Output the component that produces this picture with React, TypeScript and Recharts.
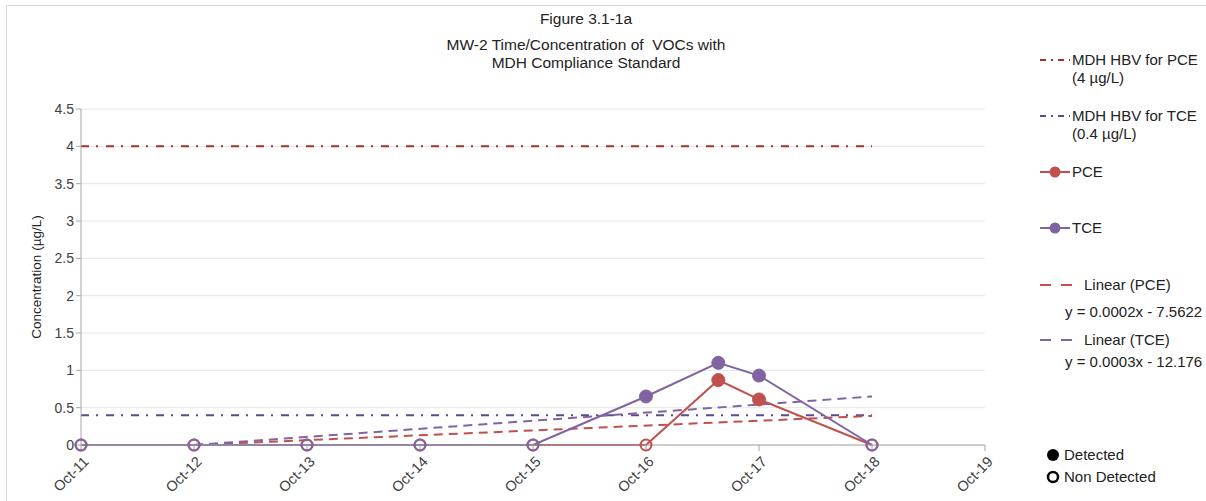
import React from "react";
import { CartesianGrid, Line, LineChart, XAxis, YAxis } from "recharts";

// x values are decimal years (Oct = year + 0.75)
const tickYears = [2011.75, 2012.75, 2013.75, 2014.75, 2015.75, 2016.75, 2017.75, 2018.75, 2019.75];
const tickLabels = ["Oct-11", "Oct-12", "Oct-13", "Oct-14", "Oct-15", "Oct-16", "Oct-17", "Oct-18", "Oct-19"];
const yTicks = [0, 0.5, 1, 1.5, 2, 2.5, 3, 3.5, 4, 4.5];

const sampleDates = [2011.75, 2012.75, 2013.75, 2014.75, 2015.75, 2016.75, 2017.39, 2017.75, 2018.75];
const pceValues = [0, 0, 0, 0, 0, 0, 0.87, 0.61, 0];
const pceDetected = [false, false, false, false, false, false, true, true, false];
const tceValues = [0, 0, 0, 0, 0, 0.65, 1.1, 0.93, 0];
const tceDetected = [false, false, false, false, false, true, true, true, false];

const hbvRange = [2011.75, 2018.75];
const pceHbv = 4;
const tceHbv = 0.4;

const trendRange = [2012.75, 2018.75];
const pceTrend = [0, 0.39];
const tceTrend = [0, 0.65];

const RED = "#c0504d";
const PURPLE = "#8064a2";
const HBV_RED = "#a8302c";
const HBV_PURPLE = "#5e4a8c";
const FONT = "'Liberation Sans', Arial, sans-serif";

const pceData = sampleDates.map((x, i) => ({ x, y: pceValues[i], detected: pceDetected[i] }));
const tceData = sampleDates.map((x, i) => ({ x, y: tceValues[i], detected: tceDetected[i] }));
const pceHbvData = hbvRange.map((x) => ({ x, y: pceHbv }));
const tceHbvData = hbvRange.map((x) => ({ x, y: tceHbv }));
const pceTrendData = trendRange.map((x, i) => ({ x, y: pceTrend[i] }));
const tceTrendData = trendRange.map((x, i) => ({ x, y: tceTrend[i] }));

function makeDot(color: string) {
  return (props: any) => {
    const { cx, cy, payload, index } = props;
    if (cx == null || cy == null) return <g key={index} />;
    if (payload.detected) {
      return <circle key={index} cx={cx} cy={cy} r={6.5} fill={color} stroke={color} strokeWidth={1} />;
    }
    return <circle key={index} cx={cx} cy={cy} r={5.5} fill="none" stroke={color} strokeWidth={2} />;
  };
}

function XTick(props: any) {
  const { x, y, payload } = props;
  const label = tickLabels[tickYears.indexOf(payload.value)];
  return (
    <g transform={`translate(${x + 5},${y + 6}) rotate(-45)`}>
      <text x={0} y={0} dy="0.35em" textAnchor="end" fontSize={14.5} fontFamily={FONT} fill="#404040">
        {label}
      </text>
    </g>
  );
}

function Legend() {
  const t = { fontSize: 15, fontFamily: FONT, fill: "#222" } as const;
  return (
    <svg width={1206} height={501} style={{ position: "absolute", left: 0, top: 0, pointerEvents: "none" }}>
      <line x1={1040} x2={1070} y1={60} y2={60} stroke={HBV_RED} strokeWidth={2} strokeDasharray="6 5 2 5" />
      <text x={1072} y={65} {...t}>MDH HBV for PCE</text>
      <text x={1072} y={83} {...t}>(4 µg/L)</text>

      <line x1={1040} x2={1070} y1={116} y2={116} stroke={HBV_PURPLE} strokeWidth={2} strokeDasharray="6 5 2 5" />
      <text x={1072} y={121} {...t}>MDH HBV for TCE</text>
      <text x={1072} y={139} {...t}>(0.4 µg/L)</text>

      <line x1={1040} x2={1070} y1={172} y2={172} stroke={RED} strokeWidth={2} />
      <circle cx={1055} cy={172} r={5.5} fill={RED} />
      <text x={1072} y={177} {...t}>PCE</text>

      <line x1={1040} x2={1070} y1={228} y2={228} stroke={PURPLE} strokeWidth={2} />
      <circle cx={1055} cy={228} r={5.5} fill={PURPLE} />
      <text x={1072} y={233} {...t}>TCE</text>

      <line x1={1040} x2={1072} y1={285} y2={285} stroke={RED} strokeWidth={2} strokeDasharray="11 10" />
      <text x={1084} y={290} {...t}>Linear (PCE)</text>
      <text x={1065} y={317} {...t}>y = 0.0002x - 7.5622</text>

      <line x1={1040} x2={1072} y1={340} y2={340} stroke={PURPLE} strokeWidth={2} strokeDasharray="11 10" />
      <text x={1084} y={345} {...t}>Linear (TCE)</text>
      <text x={1065} y={367} {...t}>y = 0.0003x - 12.176</text>

      <circle cx={1053} cy={455} r={6} fill="#000" />
      <text x={1064} y={460} {...t}>Detected</text>
      <circle cx={1053} cy={477} r={5} fill="none" stroke="#000" strokeWidth={2.5} />
      <text x={1064} y={482} {...t}>Non Detected</text>
    </svg>
  );
}

export default function App() {
  return (
    <div style={{ position: "absolute", left: 0, top: 0, width: 1206, height: 501, background: "#fff", fontFamily: FONT, overflow: "hidden" }}>
      <div style={{ position: "absolute", left: 6, top: 5, width: 1300, height: 600, borderLeft: "1px solid #d9d9d9", borderTop: "1px solid #d9d9d9" }} />
      <div style={{ position: "absolute", left: 0, width: 1172, top: 10, textAlign: "center", fontSize: 15.5, color: "#222", lineHeight: "18px" }}>
        <div>Figure 3.1-1a</div>
        <div style={{ marginTop: 8, whiteSpace: "pre" }}>MW-2 Time/Concentration of  VOCs with</div>
        <div>MDH Compliance Standard</div>
      </div>
      <div style={{ position: "absolute", left: 0, top: 0 }}>
        <LineChart width={1206} height={501} margin={{ top: 109, right: 221, bottom: 0, left: 0 }}>
          <CartesianGrid vertical={false} stroke="#e6e6e6" />
          <XAxis
            dataKey="x"
            type="number"
            domain={[2011.75, 2019.75]}
            ticks={tickYears}
            tick={<XTick />}
            tickSize={6}
            height={56}
            stroke="#a6a6a6"
            allowDuplicatedCategory={false}
            interval={0}
          />
          <YAxis
            type="number"
            domain={[0, 4.5]}
            ticks={yTicks}
            width={81}
            tickSize={5}
            stroke="#a6a6a6"
            tick={{ fontSize: 14, fill: "#404040", fontFamily: FONT }}
            label={{ value: "Concentration (µg/L)", angle: -90, position: "insideLeft", dx: 31, fontSize: 13.5, fill: "#222", fontFamily: FONT, style: { textAnchor: "middle" } }}
          />
          <Line data={pceHbvData} dataKey="y" stroke={HBV_RED} strokeWidth={2} strokeDasharray="8 7 2 8" dot={false} isAnimationActive={false} />
          <Line data={tceHbvData} dataKey="y" stroke={HBV_PURPLE} strokeWidth={2} strokeDasharray="8 7 2 8" dot={false} isAnimationActive={false} />
          <Line data={pceTrendData} dataKey="y" stroke={RED} strokeWidth={2} strokeDasharray="9 6" dot={false} isAnimationActive={false} />
          <Line data={tceTrendData} dataKey="y" stroke={PURPLE} strokeWidth={2} strokeDasharray="9 6" dot={false} isAnimationActive={false} />
          <Line data={pceData} dataKey="y" stroke={RED} strokeWidth={2} dot={makeDot(RED)} isAnimationActive={false} />
          <Line data={tceData} dataKey="y" stroke={PURPLE} strokeWidth={2} dot={makeDot(PURPLE)} isAnimationActive={false} />
        </LineChart>
      </div>
      <Legend />
    </div>
  );
}
